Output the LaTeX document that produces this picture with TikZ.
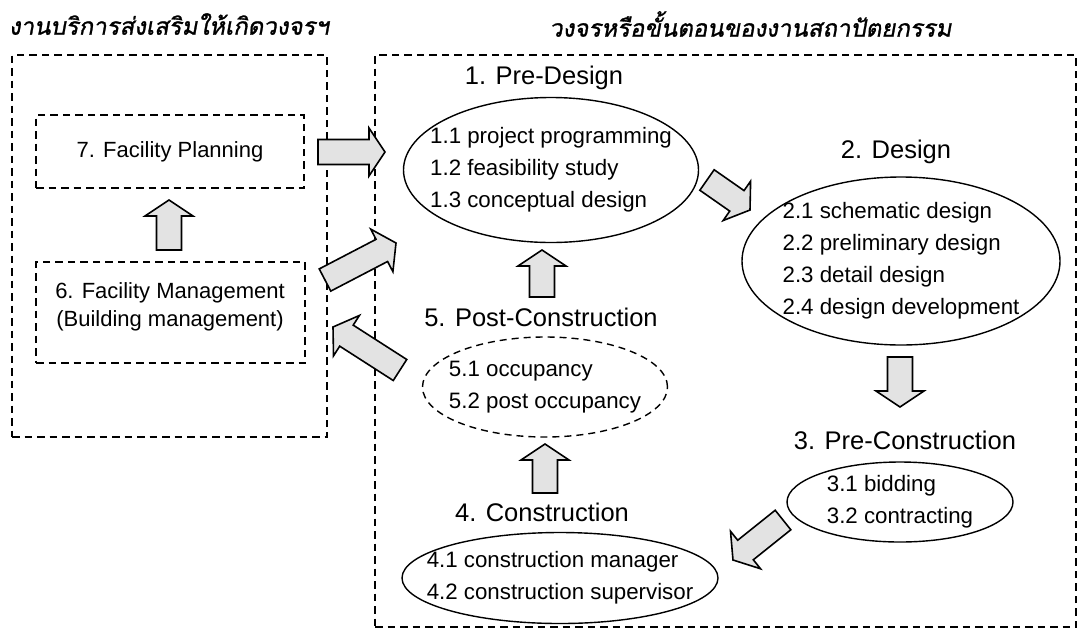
\documentclass[tikz,border=0pt]{standalone}
\usepackage{fontspec}
\setmainfont{Liberation Sans}
\newfontfamily\thaifont[Script=Thai,FakeSlant=0.18,FakeBold=1.2]{Loma}
\usetikzlibrary{calc,shapes.geometric}
\tikzset{
  dbox/.style={draw, dash pattern=on 7.5pt off 5pt, line width=1.8pt},
  ell/.style={ellipse, draw, line width=1.4pt, inner sep=0},
  item/.style={font=\fontsize{22.3}{32}\selectfont, align=left, inner sep=0},
  ttl/.style={font=\fontsize{25.5}{30}\selectfont, inner sep=0},
  hdr/.style={font=\thaifont\fontsize{24}{28}\selectfont, inner sep=0},
  blk/.style={draw, line width=1.6pt, fill=gray!22, line join=miter},
}
\newcommand\barrow[2]{%
  \coordinate (#2b) at ($(#2)!16pt!(#1)$);
  \draw[blk] ($(#1)!12.5pt!90:(#2)$) -- ($(#2b)!12.5pt!90:(#2)$) -- ($(#2b)!24pt!90:(#2)$) -- (#2)
    -- ($(#2b)!24pt!-90:(#2)$) -- ($(#2b)!12.5pt!-90:(#2)$) -- ($(#1)!12.5pt!-90:(#2)$) -- cycle;}
\begin{document}
\begin{tikzpicture}[x=1pt,y=-1pt]
\useasboundingbox (0,0) rectangle (1081,630);
% headers
\node[hdr] (hl) at (169,24) {งานบริการส่งเสริมให้เกิดวงจรฯ};
\node[hdr, anchor=west] (hr) at (549,24) {วงจรหรือขั้นตอนของงานสถาปัตยกรรม};
% outer boxes
\node[dbox, minimum width=315pt, minimum height=382pt, inner sep=0] (L) at (169.5,246) {};
\node[dbox, minimum width=701pt, minimum height=572pt, inner sep=0] (R) at (725.5,341) {};
% left boxes
\node[dbox, minimum width=268pt, minimum height=73pt, inner sep=0, font=\fontsize{22}{28}\selectfont] (b7) at (170,151.5) {7. Facility Planning};
\node[dbox, minimum width=269pt, minimum height=101pt, inner sep=0] (b6) at (170.5,312.5) {};
\node[inner sep=0, align=center, font=\fontsize{22}{28}\selectfont] (b6t) at (170,307) {6. Facility Management\\(Building management)};
% ellipses
\node[ell, minimum width=295pt, minimum height=145pt] (e1) at (551,170) {};
\node[item] (i1) at (e1.center) {1.1 project programming\\1.2 feasibility study\\1.3 conceptual design};
\node[ell, minimum width=318pt, minimum height=168pt] (e2) at (901,261) {};
\node[item] (i2) at (e2.center) {2.1 schematic design\\2.2 preliminary design\\2.3 detail design\\2.4 design development};
\node[ell, minimum width=226pt, minimum height=80pt] (e3) at (900,502) {};
\node[item] (i3) at (e3.center) {3.1 bidding\\3.2 contracting};
\node[ell, minimum width=316pt, minimum height=91pt] (e4) at (560,578) {};
\node[item] (i4) at (e4.center) {4.1 construction manager\\4.2 construction supervisor};
\node[ell, dash pattern=on 7pt off 5pt, minimum width=245pt, minimum height=100pt] (e5) at (545,387) {};
\node[item] (i5) at (e5.center) {5.1 occupancy\\5.2 post occupancy};
% titles
\node[ttl] (T1) at (544,78) {1. Pre-Design};
\node[ttl] (T2) at (896,152) {2. Design};
\node[ttl] (T3) at (905,440) {3. Pre-Construction};
\node[ttl] (T4) at (542,512) {4. Construction};
\node[ttl] (T5) at (541,317) {5. Post-Construction};
% block arrows
\coordinate (t76) at (169,250); \coordinate (h76) at (169,200);
\coordinate (t71) at (318,152); \coordinate (h71) at (385,152);
\coordinate (t61) at (325,280); \coordinate (h61) at (396,243);
\coordinate (t56) at (400,370); \coordinate (h56) at (333,327);
\coordinate (t12) at (707,180); \coordinate (h12) at (750,210);
\coordinate (t23) at (900,357); \coordinate (h23) at (900,407);
\coordinate (t34) at (783,520); \coordinate (h34) at (733,560);
\coordinate (t45) at (545,493); \coordinate (h45) at (545,444);
\coordinate (t51) at (542,297); \coordinate (h51) at (542,250);
\barrow{t76}{h76}
\barrow{t71}{h71}
\barrow{t61}{h61}
\barrow{t56}{h56}
\barrow{t12}{h12}
\barrow{t23}{h23}
\barrow{t34}{h34}
\barrow{t45}{h45}
\barrow{t51}{h51}
\end{tikzpicture}
\end{document}
